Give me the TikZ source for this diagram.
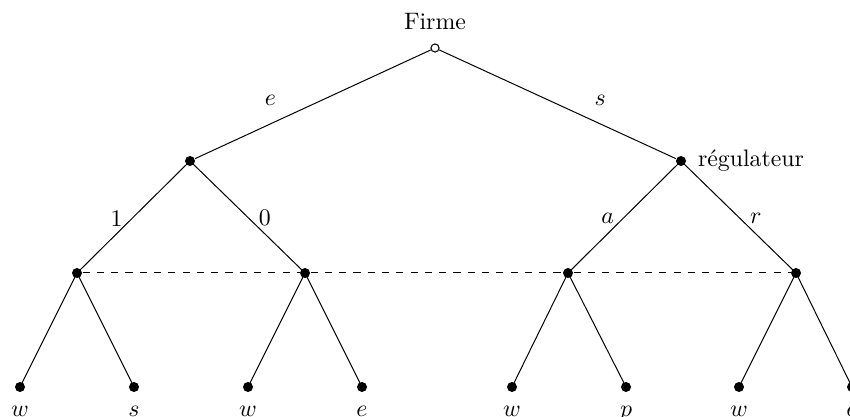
\documentclass[tikz,border=0pt]{standalone}
\begin{document}
\begin{tikzpicture}[x=0.42pt,y=-0.42pt,
  dec/.style={circle,fill=black,inner sep=0pt,minimum size=4.2pt},
  root/.style={circle,draw=black,fill=white,inner sep=0pt,minimum size=3.4pt,line width=0.45pt},
  leaflab/.style={label distance=2.2pt, text height=4.3pt, text depth=0pt},
  elab1/.style={pos=0.68, yshift=10pt, inner sep=0pt},
  elab2/.style={pos=0.65, yshift=6.6pt, inner sep=0pt},
  every path/.style={line width=0.42pt}]
\useasboundingbox (0,0) rectangle (850,417);
% nodes
\node[root, label={[label distance=2pt]above:Firme}] (R) at (435,48) {};
\node[dec] (A) at (190,161) {};
\node[dec, label={[label distance=1.3pt]right:régulateur}] (B) at (681,161) {};
\node[dec] (A1) at (77,273) {};
\node[dec] (A0) at (305,273) {};
\node[dec] (Ba) at (568,273) {};
\node[dec] (Br) at (796,273) {};
\node[dec, label={[leaflab]below:$w$}] (L1) at (20,387) {};
\node[dec, label={[leaflab]below:$s$}] (L2) at (134,387) {};
\node[dec, label={[leaflab]below:$w$}] (L3) at (248,387) {};
\node[dec, label={[leaflab]below:$e$}] (L4) at (362,387) {};
\node[dec, label={[leaflab]below:$w$}] (L5) at (512,387) {};
\node[dec, label={[leaflab]below:$p$}] (L6) at (626,387) {};
\node[dec, label={[leaflab]below:$w$}] (L7) at (739,387) {};
\node[dec, label={[leaflab]below:$e$}] (L8) at (852,387) {};
% edges
\draw (R) -- node[elab1] {$e$} (A);
\draw (R) -- node[elab1] {$s$} (B);
\draw (A.center) -- node[elab2] {1} (A1.center);
\draw (A.center) -- node[elab2] {0} (A0.center);
\draw (B.center) -- node[elab2] {$a$} (Ba.center);
\draw (B.center) -- node[elab2] {$r$} (Br.center);
\draw (A1.center) -- (L1.center);
\draw (A1.center) -- (L2.center);
\draw (A0.center) -- (L3.center);
\draw (A0.center) -- (L4.center);
\draw (Ba.center) -- (L5.center);
\draw (Ba.center) -- (L6.center);
\draw (Br.center) -- (L7.center);
\draw (Br.center) -- (L8.center);
\draw[dashed] (A1) -- (A0) -- (Ba) -- (Br);
\end{tikzpicture}
\end{document}
